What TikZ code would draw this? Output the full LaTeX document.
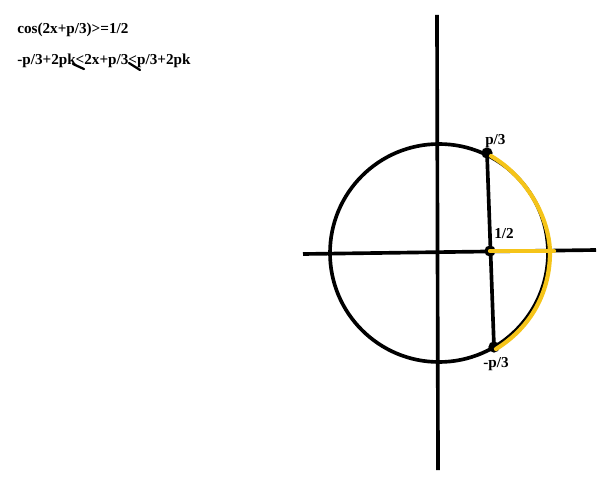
\documentclass[tikz,border=0pt]{standalone}
\usepackage{fontspec}
\setmainfont{Liberation Serif}
\usetikzlibrary{positioning}

\definecolor{arcyellow}{RGB}{245,196,25}

\begin{document}
\begin{tikzpicture}[
    x=0.025cm, y=-0.025cm,
    axis/.style={draw=black, line width=2.6pt},
    chord/.style={draw=black, line width=2.6pt},
    yarc/.style={draw=arcyellow, line width=3pt, line cap=round, line join=round},
    dot/.style={circle, fill=black, inner sep=0pt, minimum size=8pt},
    lbl/.style={font=\bfseries\fontsize{10.8}{12}\selectfont, inner sep=0pt, anchor=base west},
    scrib/.style={draw=black, line width=1.6pt, line cap=round}
]
    \useasboundingbox (0,0) rectangle (616,478);

    % conditions
    \node[lbl] (C1) at (17,34) {cos(2x+p/3)>=1/2};
    \node[lbl] (C2) at (17,65) {-p/3+2pk<2x+p/3<p/3+2pk};
    \draw[scrib] (73,64) -- (84,69);
    \draw[scrib] (129,63) -- (140,70);

    % axes and circle
    \coordinate (O) at (439,253);
    \coordinate (XL) at (303,254);
    \coordinate (XR) at (596,250);
    \coordinate (YT) at (437,15);
    \coordinate (YB) at (438,470);
    \draw[axis] (XL) -- (XR);
    \draw[axis] (YT) -- (YB);
    \draw[axis] (O) circle [radius=109];

    % points on the chord
    \node[dot] (P1) at (487,153) {};
    \node[dot] (P2) at (490,251) {};
    \node[dot] (P3) at (494,347) {};
    \draw[chord] (P1.center) -- (P3.center);

    % the yellow part
    \draw[yarc] (P2.center) -- (554,251);
    \draw[yarc] (491,156) .. controls (528,178) and (549,218) .. (550,252)
        .. controls (550,290) and (533,326) .. (496,349);

    % labels
    \node[lbl] (L1) at (485,145) {p/3};
    \node[lbl] (L2) at (494,238) {1/2};
    \node[lbl] (L3) at (483,367) {-p/3};
\end{tikzpicture}
\end{document}
